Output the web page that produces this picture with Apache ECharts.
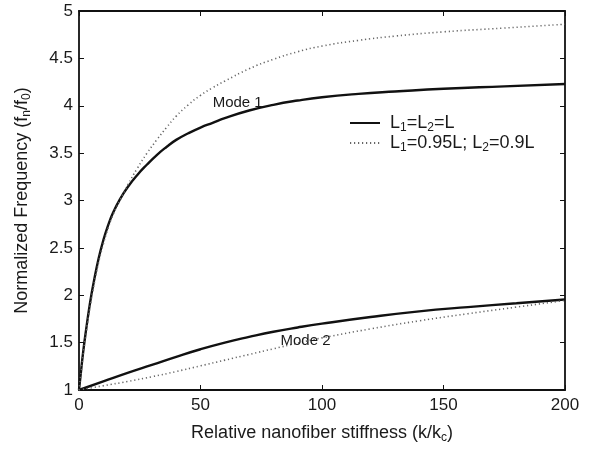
<!DOCTYPE html>
<html>
<head>
<meta charset="utf-8">
<script src="https://cdn.jsdelivr.net/npm/echarts@6/dist/echarts.min.js"></script>
<style>
  html, body { margin: 0; padding: 0; background: #fff; }
  #chart { width: 592px; height: 449px; }
</style>
</head>
<body>
<div id="chart"></div>
<script>
// stiffness values (k/kc) where the curves were read
var xMode1 = [0, 1, 2, 3, 4, 5, 6, 8, 10, 12, 14, 17, 20, 24, 28, 32, 36, 40, 45, 50, 55, 60, 70, 80, 90, 100, 115, 130, 150, 175, 200];
var xMode2 = [0, 10, 20, 30, 40, 50, 60, 70, 80, 90, 100, 120, 140, 160, 180, 200];

// mode 1, equal lengths (solid) and unequal lengths (dotted)
var mode1Equal   = [1.00, 1.24, 1.46, 1.65, 1.83, 1.99, 2.13, 2.38, 2.58, 2.74, 2.87, 3.02, 3.14, 3.27, 3.38, 3.48, 3.565, 3.64, 3.71, 3.77, 3.82, 3.87, 3.95, 4.01, 4.055, 4.09, 4.125, 4.15, 4.18, 4.205, 4.23];
var mode1Unequal = [1.00, 1.22, 1.43, 1.62, 1.79, 1.95, 2.09, 2.34, 2.54, 2.71, 2.85, 3.01, 3.16, 3.34, 3.50, 3.64, 3.77, 3.89, 4.01, 4.11, 4.19, 4.26, 4.39, 4.49, 4.57, 4.63, 4.69, 4.735, 4.78, 4.82, 4.86];

// mode 2
var mode2Equal   = [1.00, 1.09, 1.18, 1.265, 1.35, 1.43, 1.50, 1.56, 1.615, 1.66, 1.70, 1.77, 1.83, 1.875, 1.915, 1.955];
var mode2Unequal = [1.00, 1.045, 1.09, 1.14, 1.195, 1.255, 1.315, 1.375, 1.435, 1.495, 1.55, 1.645, 1.73, 1.805, 1.875, 1.945];

var legendNames = ['equal', 'unequal'];

function pairs(xs, ys) {
  var out = [];
  for (var i = 0; i < xs.length; i++) {
    out.push([xs[i], ys[i]]);
  }
  return out;
}

var FONT = '"Liberation Sans", Arial, Helvetica, sans-serif';
var textCol = '#1a1a1a';

var legendRich = {
  n: { fontSize: 18, fontFamily: FONT, color: textCol },
  s: { fontSize: 12, fontFamily: FONT, color: textCol, padding: [10, 0, 0, 0] }
};
var titleRich = {
  n: { fontSize: 18, fontFamily: FONT, color: textCol },
  s: { fontSize: 12, fontFamily: FONT, color: textCol, padding: [10, 0, 0, 0] }
};

var solidStyle = { color: '#111', width: 2.4, type: 'solid' };
var dotStyle = { color: '#666', width: 1.6, type: [1.2, 2.8] };

function lineSeries(name, data, style) {
  return {
    name: name,
    type: 'line',
    data: data,
    showSymbol: false,
    symbol: 'none',
    smooth: 0.5,
    lineStyle: style,
    itemStyle: { color: style.color },
    animation: false,
    silent: true
  };
}

var myChart = echarts.init(document.getElementById('chart'), null, { renderer: 'canvas' });

var s1 = lineSeries('equal', pairs(xMode1, mode1Equal), solidStyle);
// "Mode 1" / "Mode 2" annotations
s1.markPoint = {
  symbol: 'circle',
  symbolSize: 0,
  silent: true,
  label: {
    show: true,
    position: 'inside',
    fontSize: 15,
    fontFamily: FONT,
    color: textCol
  },
  data: [
    { coord: [65.3, 4.03], value: 'Mode 1', label: { formatter: 'Mode 1' } },
    { coord: [93.2, 1.52], value: 'Mode 2', label: { formatter: 'Mode 2' } }
  ]
};

var option = {
  backgroundColor: '#fff',
  animation: false,
  grid: { left: 79, right: 27, top: 11, bottom: 55, containLabel: false },
  legend: {
    data: legendNames,
    orient: 'vertical',
    left: 349,
    top: 114,
    padding: 0,
    itemWidth: 30,
    itemHeight: 14,
    itemGap: 0,
    selectedMode: false,
    itemStyle: { opacity: 0 },
    formatter: function (name) {
      if (name === 'equal') {
        return '{n|L}{s|1}{n|=L}{s|2}{n|=L}';
      }
      return '{n|L}{s|1}{n|=0.95L; L}{s|2}{n|=0.9L}';
    },
    textStyle: { rich: legendRich, padding: [0, 0, 0, 5] }
  },
  xAxis: [
    {
      type: 'value',
      position: 'bottom',
      min: 0,
      max: 200,
      interval: 50,
      axisLine: { lineStyle: { color: '#111', width: 1.8 } },
      axisTick: { inside: true, length: 5, lineStyle: { color: '#111', width: 1 } },
      splitLine: { show: false },
      axisLabel: { fontSize: 17, fontFamily: FONT, color: textCol, margin: 7 },
      name: '{n|Relative nanofiber stiffness (k/k}{s|c}{n|)}',
      nameLocation: 'middle',
      nameGap: 32,
      nameTextStyle: { rich: titleRich }
    },
    {
      type: 'value',
      position: 'top',
      min: 0,
      max: 200,
      interval: 50,
      axisLine: { onZero: false, lineStyle: { color: '#111', width: 1.8 } },
      axisTick: { inside: true, length: 5, lineStyle: { color: '#111', width: 1 } },
      splitLine: { show: false },
      axisLabel: { show: false }
    }
  ],
  yAxis: [
    {
      type: 'value',
      position: 'left',
      min: 1,
      max: 5,
      interval: 0.5,
      axisLine: { show: true, onZero: false, lineStyle: { color: '#111', width: 1.8 } },
      axisTick: { show: true, inside: true, length: 5, lineStyle: { color: '#111', width: 1 } },
      splitLine: { show: false },
      axisLabel: { fontSize: 17, fontFamily: FONT, color: textCol, margin: 6 },
      name: '{n|Normalized Frequency (f}{s|n}{n|/f}{s|0}{n|)}',
      nameLocation: 'middle',
      nameRotate: 90,
      nameGap: 46,
      nameTextStyle: { rich: titleRich }
    },
    {
      type: 'value',
      position: 'right',
      min: 1,
      max: 5,
      interval: 0.5,
      axisLine: { show: true, onZero: false, lineStyle: { color: '#111', width: 1.8 } },
      axisTick: { show: true, inside: true, length: 5, lineStyle: { color: '#111', width: 1 } },
      splitLine: { show: false },
      axisLabel: { show: false }
    }
  ],
  series: [
    s1,
    lineSeries('unequal', pairs(xMode1, mode1Unequal), dotStyle),
    lineSeries('equal', pairs(xMode2, mode2Equal), solidStyle),
    lineSeries('unequal', pairs(xMode2, mode2Unequal), dotStyle)
  ]
};

myChart.setOption(option);
</script>
</body>
</html>
